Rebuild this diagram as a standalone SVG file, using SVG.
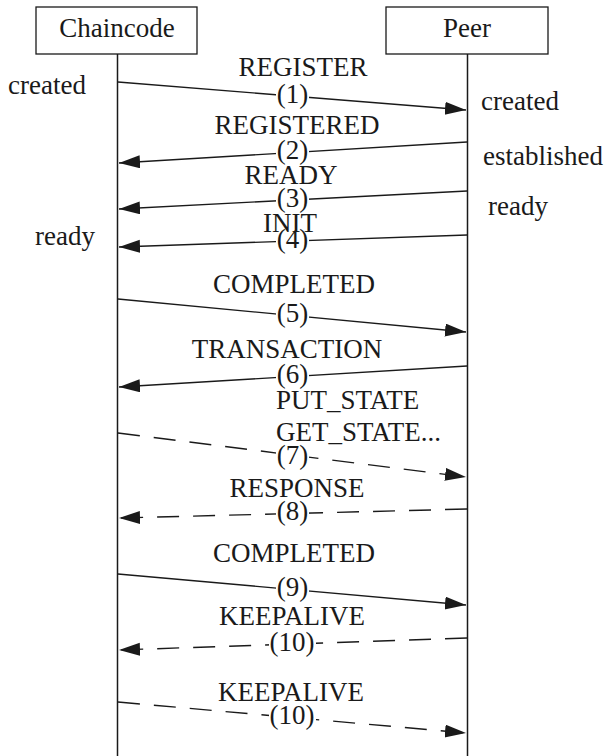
<svg xmlns="http://www.w3.org/2000/svg" width="605" height="756" viewBox="0 0 605 756">
<style>
text{font-family:'Liberation Serif','Times New Roman',Times,serif;font-size:27px;fill:#1a1a1a}
.c{text-anchor:middle}
.box{fill:#fff;stroke:#1a1a1a;stroke-width:1.3}
.life{stroke:#1a1a1a;stroke-width:1.5;fill:none}
.msg{stroke:#1a1a1a;stroke-width:1.4;fill:none;marker-end:url(#ah)}
.dash{stroke-dasharray:22 14}
.bg{fill:#fff}
</style>
<defs>
<marker id="ah" markerUnits="userSpaceOnUse" markerWidth="22" markerHeight="14" refX="21" refY="6.5" orient="auto">
<path d="M0,0 L21,6.5 L0,13 z" fill="#1a1a1a" stroke="none"/>
</marker>
</defs>
<rect width="605" height="756" fill="#fff"/>
<g id="chaincode">
<line class="life" x1="117.5" y1="54" x2="117.5" y2="756"/>
<rect class="box" x="36" y="7" width="161" height="47"/>
<text class="c" x="117" y="37">Chaincode</text>
</g>
<g id="peer">
<line class="life" x1="467.5" y1="54" x2="467.5" y2="756"/>
<rect class="box" x="386" y="7" width="162" height="47"/>
<text class="c" x="467" y="37">Peer</text>
</g>
<g id="connectors">
<line class="msg" x1="118" y1="82" x2="466" y2="110"/>
<line class="msg" x1="467" y1="142" x2="119" y2="163"/>
<line class="msg" x1="467" y1="191" x2="119" y2="209"/>
<line class="msg" x1="467" y1="235" x2="119" y2="247"/>
<line class="msg" x1="118" y1="299" x2="466" y2="332"/>
<line class="msg" x1="467" y1="366" x2="119" y2="387"/>
<line class="msg dash" x1="118" y1="433" x2="466" y2="477"/>
<line class="msg dash" x1="467" y1="509" x2="119" y2="518"/>
<line class="msg" x1="118" y1="574" x2="466" y2="605"/>
<line class="msg dash" x1="467" y1="638" x2="119" y2="650"/>
<line class="msg dash" x1="118" y1="702" x2="466" y2="733"/>
</g>
<g id="label-backgrounds">
<rect class="bg" x="276" y="84" width="33" height="25"/>
<rect class="bg" x="276" y="140" width="33" height="25"/>
<rect class="bg" x="276" y="188" width="33" height="25"/>
<rect class="bg" x="276" y="229" width="33" height="25"/>
<rect class="bg" x="276" y="303" width="33" height="25"/>
<rect class="bg" x="276" y="364" width="33" height="25"/>
<rect class="bg" x="276" y="444" width="33" height="25"/>
<rect class="bg" x="276" y="501" width="33" height="25"/>
<rect class="bg" x="276" y="577" width="33" height="25"/>
<rect class="bg" x="269" y="632" width="47" height="25"/>
<rect class="bg" x="269" y="705" width="47" height="25"/>
</g>
<g id="message-labels">
<text class="c" x="303" y="76">REGISTER</text>
<text class="c" x="292.5" y="103">(1)</text>
<text class="c" x="297" y="134">REGISTERED</text>
<text class="c" x="292.5" y="159">(2)</text>
<text class="c" x="291" y="184">READY</text>
<text class="c" x="292.5" y="207">(3)</text>
<text class="c" x="290" y="232">INIT</text>
<text class="c" x="292.5" y="248">(4)</text>
<text class="c" x="294" y="293">COMPLETED</text>
<text class="c" x="292.5" y="322">(5)</text>
<text class="c" x="287" y="358">TRANSACTION</text>
<text class="c" x="292.5" y="383">(6)</text>
<text x="276" y="409">PUT_STATE</text>
<text x="276" y="441">GET_STATE...</text>
<text class="c" x="292.5" y="464">(7)</text>
<text class="c" x="297" y="497">RESPONSE</text>
<text class="c" x="292.5" y="520">(8)</text>
<text class="c" x="294" y="562">COMPLETED</text>
<text class="c" x="292.5" y="596">(9)</text>
<text class="c" x="292" y="625">KEEPALIVE</text>
<text class="c" x="292" y="651">(10)</text>
<text class="c" x="291" y="701">KEEPALIVE</text>
<text class="c" x="292" y="724">(10)</text>
</g>
<g id="state-labels">
<text x="8" y="94">created</text>
<text x="35" y="245">ready</text>
<text x="481" y="110">created</text>
<text x="483" y="165">established</text>
<text x="488" y="215">ready</text>
</g>
</svg>
